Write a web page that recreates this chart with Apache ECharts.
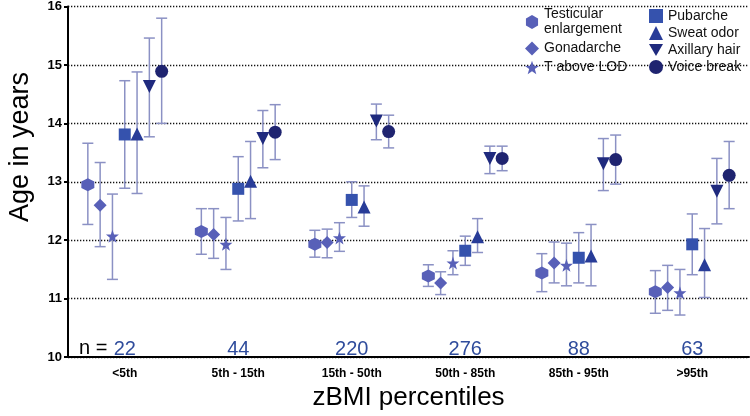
<!DOCTYPE html>
<html><head><meta charset="utf-8">
<script src="https://cdn.jsdelivr.net/npm/echarts@6/dist/echarts.min.js"></script>
<style>html,body{margin:0;padding:0;background:#fff}#c{width:750px;height:416px}</style>
</head><body><div id="c"></div>
<script>
const categories = ['<5th', '5th - 15th', '15th - 50th', '50th - 85th', '85th - 95th', '>95th'];
const nValues = ['22', '44', '220', '276', '88', '63'];
const yMin = 10, yMax = 16, yStep = 1;

const testicularMean = [12.95, 12.15, 11.93, 11.39, 11.44, 11.12];
const testicularLow  = [12.27, 11.76, 11.71, 11.21, 11.12, 10.75];
const testicularHigh = [13.66, 12.54, 12.17, 11.58, 11.77, 11.48];
const gonadarcheMean = [12.60, 12.10, 11.96, 11.27, 11.61, 11.19];
const gonadarcheLow  = [11.89, 11.69, 11.70, 11.07, 11.27, 10.80];
const gonadarcheHigh = [13.33, 12.54, 12.19, 11.46, 11.97, 11.57];
const tLodMean = [12.07, 11.93, 12.04, 11.61, 11.57, 11.10];
const tLodLow  = [11.33, 11.50, 11.81, 11.41, 11.22, 10.72];
const tLodHigh = [12.79, 12.39, 12.30, 11.82, 11.95, 11.50];
const pubarcheMean = [13.81, 12.88, 12.69, 11.82, 11.70, 11.93];
const pubarcheLow  = [12.89, 12.33, 12.39, 11.57, 11.27, 11.41];
const pubarcheHigh = [14.73, 13.43, 13.00, 12.07, 12.13, 12.45];
const sweatMean = [13.82, 13.01, 12.57, 12.06, 11.73, 11.58];
const sweatLow  = [12.80, 12.37, 12.24, 11.79, 11.22, 11.02];
const sweatHigh = [14.88, 13.69, 12.93, 12.37, 12.27, 12.20];
const axillaryMean = [14.63, 13.74, 14.04, 13.40, 13.31, 12.84];
const axillaryLow  = [13.77, 13.24, 13.72, 13.14, 12.85, 12.28];
const axillaryHigh = [15.46, 14.22, 14.33, 13.61, 13.74, 13.40];
const voiceMean = [14.89, 13.85, 13.86, 13.40, 13.38, 13.11];
const voiceLow  = [14.00, 13.38, 13.58, 13.19, 12.96, 12.54];
const voiceHigh = [15.80, 14.32, 14.14, 13.61, 13.80, 13.69];

const HEX = 'path://M0,-10 L8.66,-5 L8.66,5 L0,10 L-8.66,5 L-8.66,-5Z';
const STAR = 'path://M0,-10 L2.35,-3.24 L9.51,-3.09 L3.8,1.24 L5.88,8.09 L0,4 L-5.88,8.09 L-3.8,1.24 L-9.51,-3.09 L-2.35,-3.24Z';
const INVTRI = 'path://M-10,-8 L10,-8 L0,9Z';

const measures = [
  {name: 'Testicular\nenlargement', mean: testicularMean, low: testicularLow, high: testicularHigh, symbol: HEX, size: 13, color: '#5860b8'},
  {name: 'Gonadarche', mean: gonadarcheMean, low: gonadarcheLow, high: gonadarcheHigh, symbol: 'diamond', size: 13, color: '#5860b8'},
  {name: 'T above LOD', mean: tLodMean, low: tLodLow, high: tLodHigh, symbol: STAR, size: 13, color: '#5860b8'},
  {name: 'Pubarche', mean: pubarcheMean, low: pubarcheLow, high: pubarcheHigh, symbol: 'rect', size: 12, color: '#3552ad'},
  {name: 'Sweat odor', mean: sweatMean, low: sweatLow, high: sweatHigh, symbol: 'triangle', size: 13, color: '#283c98'},
  {name: 'Axillary hair', mean: axillaryMean, low: axillaryLow, high: axillaryHigh, symbol: INVTRI, size: 13, color: '#1f2a7e'},
  {name: 'Voice break', mean: voiceMean, low: voiceLow, high: voiceHigh, symbol: 'circle', size: 13, color: '#1f2470'}
];
const step = 0.1084;
const FONT = '"Liberation Sans", Arial, sans-serif';

const errData = [];
measures.forEach((m, k) => {
  m.mean.forEach((v, i) => errData.push([i + (k - 3) * step, m.low[i], m.high[i]]));
});

const series = [{
  type: 'custom', xAxisIndex: 2, yAxisIndex: 0, z: 1, silent: true,
  data: errData,
  renderItem: function (params, api) {
    const x = api.value(0);
    const lo = api.coord([x, api.value(1)]);
    const hi = api.coord([x, api.value(2)]);
    const w = 5.5;
    const st = {stroke: '#8b91c4', lineWidth: 1.5};
    return {type: 'group', children: [
      {type: 'line', shape: {x1: lo[0], y1: lo[1], x2: hi[0], y2: hi[1]}, style: st},
      {type: 'line', shape: {x1: lo[0] - w, y1: lo[1], x2: lo[0] + w, y2: lo[1]}, style: st},
      {type: 'line', shape: {x1: hi[0] - w, y1: hi[1], x2: hi[0] + w, y2: hi[1]}, style: st}
    ]};
  }
}];
measures.forEach((m, k) => {
  series.push({
    type: 'scatter', name: m.name, xAxisIndex: 2, yAxisIndex: 0, z: 5,
    symbol: m.symbol, symbolSize: m.size,
    itemStyle: {color: m.color, opacity: 1},
    data: m.mean.map((v, i) => [i + (k - 3) * step, v])
  });
});

const chart = echarts.init(document.getElementById('c'), null, {renderer: 'canvas'});
chart.setOption({
  animation: false,
  backgroundColor: '#fff',
  textStyle: {fontFamily: FONT},
  grid: {left: 68, right: 1, top: 5, bottom: 51, containLabel: false},
  legend: [{
    data: measures.slice(0, 3).map(m => m.name),
    orient: 'vertical', left: 520, top: 2, itemWidth: 14, itemHeight: 14, itemGap: 4,
    textStyle: {fontSize: 14, color: '#111', fontFamily: FONT, lineHeight: 15}, selectedMode: false
  }, {
    data: measures.slice(3).map(m => m.name),
    orient: 'vertical', left: 644, top: 4, itemWidth: 14, itemHeight: 14, itemGap: 3,
    textStyle: {fontSize: 14, color: '#111', fontFamily: FONT}, selectedMode: false
  }],
  xAxis: [{
    type: 'category', data: categories, position: 'bottom',
    axisLine: {onZero: false, lineStyle: {color: '#000', width: 2}},
    axisTick: {show: false},
    axisLabel: {fontSize: 12, fontWeight: 'bold', color: '#000', margin: 11, fontFamily: FONT},
    name: 'zBMI percentiles', nameLocation: 'middle', nameGap: 27,
    nameTextStyle: {fontSize: 26, color: '#000', fontFamily: FONT}
  }, {
    type: 'category', data: nValues, position: 'bottom',
    axisLine: {show: false, onZero: false}, axisTick: {show: false},
    axisLabel: {inside: true, margin: -2, fontSize: 20, color: '#2f4c9c', fontFamily: FONT}
  }, {
    type: 'value', min: -0.5, max: 5.5, show: false, axisLine: {onZero: false}
  }],
  yAxis: {
    type: 'value', min: yMin, max: yMax, interval: yStep, position: 'left',
    axisLine: {show: true, onZero: false, lineStyle: {color: '#000', width: 2}},
    axisTick: {show: true, length: 4, lineStyle: {color: '#000', width: 2}},
    axisLabel: {fontSize: 13, fontWeight: 'bold', color: '#000', margin: 6, fontFamily: FONT},
    splitLine: {show: true, lineStyle: {color: '#111', width: 1.3, type: [1.3, 1.7]}}
  },
  graphic: [{
    type: 'text', left: 7, top: 72, rotation: Math.PI / 2,
    style: {text: 'Age in years', fontSize: 27, fill: '#000', font: '27px ' + FONT}
  }, {
    type: 'text', left: 79, top: 338,
    style: {text: 'n =', fill: '#000', font: '20px ' + FONT}
  }],
  series: series
});
</script></body></html>
